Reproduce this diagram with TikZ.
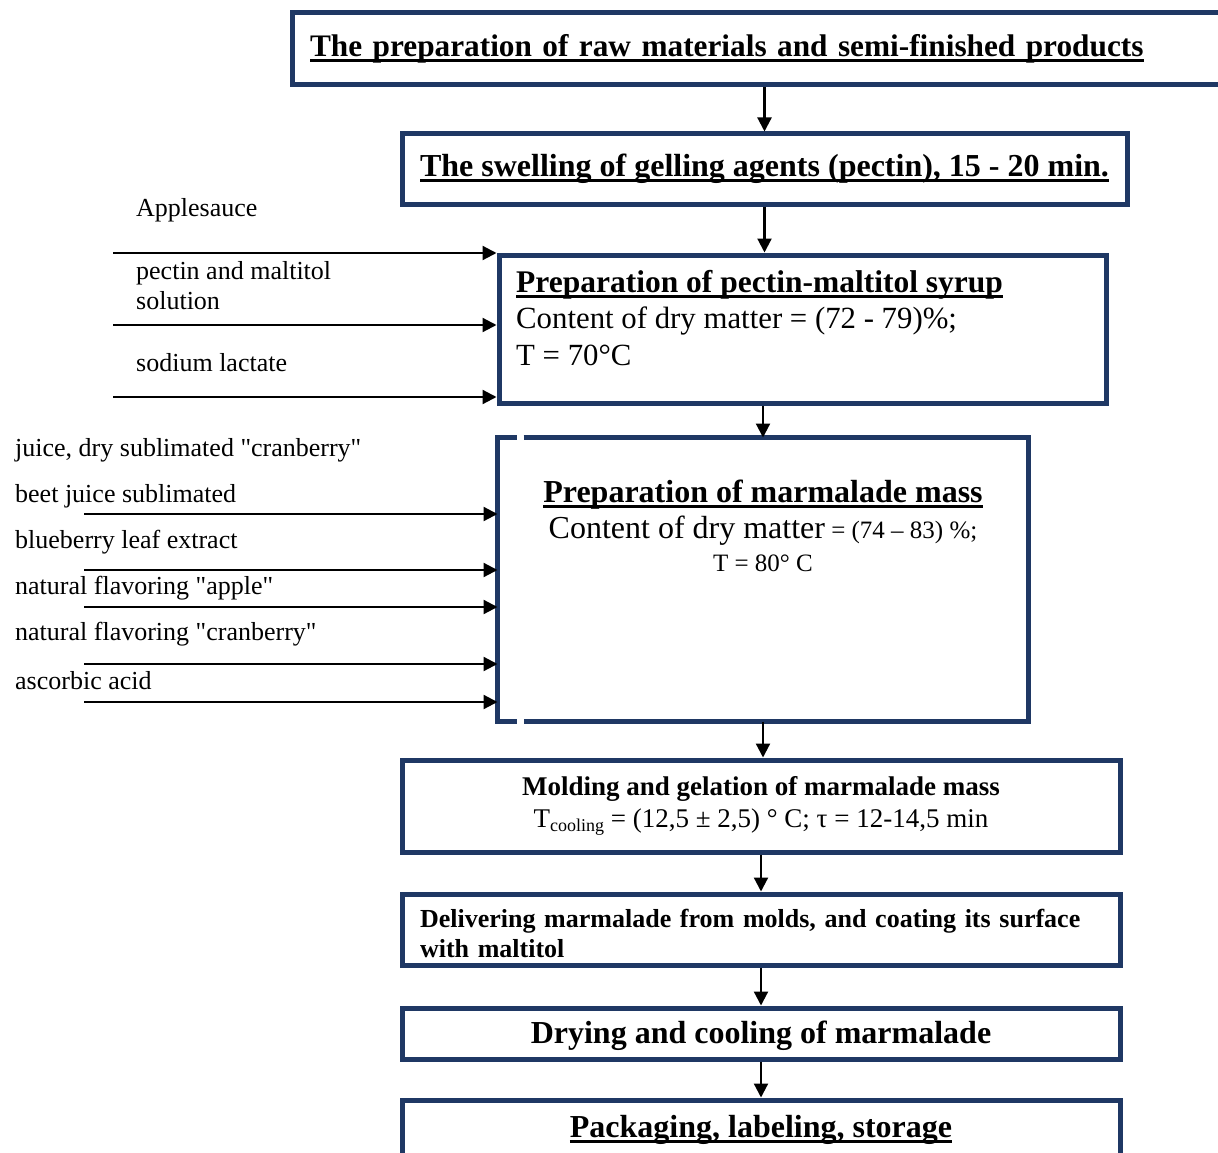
\documentclass[tikz,border=0pt]{standalone}
\usepackage{fontspec}
\setmainfont{Liberation Serif}[Ligatures=TeXOff]
\usetikzlibrary{arrows.meta,positioning}
\definecolor{boxblue}{HTML}{1F3864}
\newcommand{\undl}[1]{\setbox0\hbox{#1}\rlap{\rule[-5.5pt]{\wd0}{3pt}}\box0}
\tikzset
{
    stepbox/.style = {rectangle, draw=boxblue, line width=5pt, inner sep=0pt, align=center, font=\fontsize{32}{37}\selectfont},
    inlabel/.style = {anchor=west, align=left, inner sep=0pt, font=\fontsize{26}{30}\selectfont},
    flow/.style    = {->, >={Triangle[length=14pt,width=14pt]}, line width=2.2pt}
}

\begin{document}
\begin{tikzpicture}[x=1pt, y=-1pt]
    \useasboundingbox (0,0) rectangle (1218,1153);
    % process steps
    \node [stepbox, minimum width=948pt, minimum height=72pt, text width=912pt, align=left, font=\fontsize{31.3}{36}\selectfont] (prep) at (766,49)
        {\undl{\bfseries The preparation of raw materials and semi-finished products}};
    \node [stepbox, minimum width=725pt, minimum height=70pt] (swell) at (764.5,169)
        {\undl{\bfseries The swelling of gelling agents (pectin), 15 - 20 min.}};
    \node [stepbox, minimum width=607pt, minimum height=148pt] (syrup) at (802.5,329) {};
    \node [inner sep=0pt, anchor=west, align=left, font=\fontsize{30.8}{36.5}\selectfont] (syruptext) at (516,318)
        {{\fontsize{31.5}{36.5}\selectfont\undl{\bfseries Preparation of pectin-maltitol syrup}} \\ Content of dry matter = (72 - 79)\%; \\ T = 70°C};
    \node [stepbox, draw=none, minimum width=526pt, minimum height=279pt] (mass) at (763,579.5) {};
    \node [inner sep=0pt, align=center, font=\fontsize{32}{36}\selectfont] (masstext) at (763,526)
        {\undl{\bfseries Preparation of marmalade mass} \\
         Content of dry matter{\fontsize{25}{30}\selectfont\ = (74 – 83) \%;} \\[-3pt]
         {\fontsize{25}{30}\selectfont T = 80° C}};
    \node [stepbox, minimum width=718pt, minimum height=92pt, font=\fontsize{27}{32}\selectfont] (mold) at (761,806)
        {\bfseries Molding and gelation of marmalade mass \\
         T{\fontsize{18}{20}\selectfont\raisebox{-4pt}{cooling}} = (12,5 ± 2,5) ° C; τ = 12-14,5 min};
    \node [stepbox, minimum width=718pt, minimum height=71pt, text width=682pt, align=left, font=\fontsize{26}{30}\selectfont\bfseries] (deliv) at (761,929.5)
        {\rule{0pt}{26pt}Delivering marmalade from molds, and coating its surface \\ with maltitol};
    \node [stepbox, minimum width=718pt, minimum height=51pt, font=\fontsize{32}{37}\selectfont\bfseries] (dry) at (761,1033.5)
        {\rule{0pt}{28pt}Drying and cooling of marmalade};
    \node [stepbox, minimum width=718pt, minimum height=60pt, font=\fontsize{32}{37}\selectfont\bfseries] (pack) at (761,1130)
        {\undl{Packaging, labeling, storage}};
    % border of the mass box, broken at the left corners
    \draw [boxblue, line width=5pt] ([xshift=19pt]mass.north west) -- (mass.north west) -- (mass.south west) -- ([xshift=19pt]mass.south west);
    \draw [boxblue, line width=5pt] ([xshift=26pt]mass.north west) -- (mass.north east) -- (mass.south east) -- ([xshift=26pt]mass.south west);
    % main flow
    \draw [flow] (swell.north |- prep.south) -- (swell.north);
    \draw [flow] (swell.south) -- (swell.south |- syrup.north);
    \draw [flow] (mass.north |- syrup.south) -- (mass.north);
    \draw [flow] (mass.south) -- (mass.south |- mold.north);
    \draw [flow] (mold.south) -- (deliv.north);
    \draw [flow] (deliv.south) -- (dry.north);
    \draw [flow] (dry.south) -- (pack.north);
    % inputs of the syrup
    \node [inlabel] (apple) at (136,210) {Applesauce};
    \node [inlabel] (pectin) at (136,286) {pectin and maltitol \\ solution};
    \node [inlabel] (lactate) at (136,363) {sodium lactate};
    \coordinate (s1) at (113,253);
    \coordinate (s2) at (113,325);
    \coordinate (s3) at (113,397);
    \draw [flow] (s1) -- (s1 -| syrup.west);
    \draw [flow] (s2) -- (s2 -| syrup.west);
    \draw [flow] (s3) -- (s3 -| syrup.west);
    % inputs of the mass
    \node [inlabel] (juice) at (15,450) {juice, dry sublimated "cranberry"};
    \node [inlabel] (beet) at (15,496) {beet juice sublimated};
    \node [inlabel] (leaf) at (15,542) {blueberry leaf extract};
    \node [inlabel] (flapple) at (15,588) {natural flavoring "apple"};
    \node [inlabel] (flcran) at (15,634) {natural flavoring "cranberry"};
    \node [inlabel] (acid) at (15,681) {ascorbic acid};
    \coordinate (m1) at (84,514);
    \coordinate (m2) at (84,570);
    \coordinate (m3) at (84,607);
    \coordinate (m4) at (84,664);
    \coordinate (m5) at (84,702);
    \draw [flow] (m1) -- (m1 -| mass.west);
    \draw [flow] (m2) -- (m2 -| mass.west);
    \draw [flow] (m3) -- (m3 -| mass.west);
    \draw [flow] (m4) -- (m4 -| mass.west);
    \draw [flow] (m5) -- (m5 -| mass.west);
\end{tikzpicture}
\end{document}
